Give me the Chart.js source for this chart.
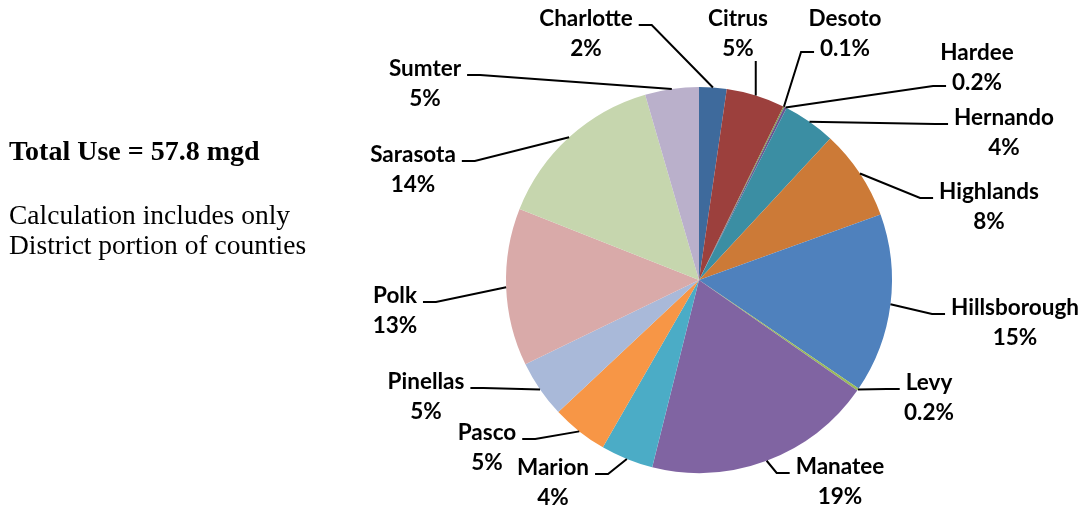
<!DOCTYPE html>
<html>
<head>
<meta charset="utf-8">
<script src="https://cdn.jsdelivr.net/npm/chart.js@4/dist/chart.umd.min.js"></script>
<style>
  body { margin: 0; background: #fff; }
  #wrap { position: relative; width: 1089px; height: 512px; }
  #chart { position: absolute; left: 0; top: 0; }
  .note { position: absolute; left: 9px; font-family: "Liberation Serif", serif; font-size: 27px; color: #000; white-space: nowrap; }
</style>
</head>
<body>
<div id="wrap">
  <canvas id="chart" width="1089" height="512"></canvas>
  <div class="note" style="top:135px; font-weight:bold; font-size:28px;">Total Use = 57.8 mgd</div>
  <div class="note" style="top:199px; font-size:27.5px;">Calculation includes only</div>
  <div class="note" style="top:229px; font-size:27.5px;">District portion of counties</div>
</div>
<script>
// dados (percentual de uso por condado)
const condados = ['Charlotte', 'Citrus', 'Desoto', 'Hardee', 'Hernando', 'Highlands', 'Hillsborough',
  'Levy', 'Manatee', 'Marion', 'Pasco', 'Pinellas', 'Polk', 'Sarasota', 'Sumter'];
const percentuais = [2.3, 4.9, 0.1, 0.2, 4.4, 7.6, 15.0, 0.2, 19.2, 4.4, 4.7, 4.8, 13.2, 14.5, 4.5];
const rotulosPct = ['2%', '5%', '0.1%', '0.2%', '4%', '8%', '15%', '0.2%', '19%', '4%', '5%', '5%', '13%', '14%', '5%'];

const cores = ['#3e6a9c', '#9c403d', '#7e9a48', '#6b5592', '#3b8ea3', '#cc7a37', '#4f81bd',
  '#9bbb59', '#8064a2', '#4bacc6', '#f79646', '#a9b9d9', '#d9aaa9', '#c6d6ae', '#bab0cb'];

// posição do centro do nome de cada rótulo, relativa ao centro da pizza
const posRotulos = [[-113, -261], [39, -261], [146, -261], [278, -227], [305, -162], [290, -88],
  [316, 28], [230, 103], [141, 187], [-146, 188], [-212, 153], [-273, 102], [-304, 16],
  [-286, -125], [-274, -211]];

const rotulosPlugin = {
  id: 'rotulos',
  afterDatasetsDraw(chart) {
    const ctx = chart.ctx;
    const meta = chart.getDatasetMeta(0);
    ctx.save();
    ctx.font = 'bold 22.5px Lato, "Open Sans", sans-serif';
    ctx.fillStyle = '#000';
    ctx.strokeStyle = '#000';
    ctx.lineWidth = 2;
    ctx.textAlign = 'center';
    ctx.textBaseline = 'middle';
    meta.data.forEach((arco, i) => {
      const p = arco.getProps(['x', 'y', 'startAngle', 'endAngle', 'outerRadius'], true);
      const meio = (p.startAngle + p.endAngle) / 2;
      const ex = p.x + Math.cos(meio) * p.outerRadius;
      const ey = p.y + Math.sin(meio) * p.outerRadius;
      const lx = p.x + posRotulos[i][0];
      const ly = p.y + posRotulos[i][1];
      const wNome = ctx.measureText(condados[i]).width;
      const wPct = ctx.measureText(rotulosPct[i]).width;
      const w = Math.max(wNome, wPct);

      // linha de chamada (liga na borda do texto mais próxima)
      ctx.beginPath();
      if (lx - w / 2 - 6 > ex) {
        // rótulo à direita: se a fatia está mais abaixo que o nome, usa a linha do percentual
        const usaPct = ey > ly + 50 && wPct < wNome;
        const ax = lx - (usaPct ? wPct : wNome) / 2 - 6;
        const ay = usaPct ? ly + 33 : ly + 6;
        ctx.moveTo(ax, ay);
        ctx.lineTo(ax - 13, ay);
      } else if (lx + w / 2 + 6 < ex) {
        const ax = lx + wNome / 2 + 6;
        ctx.moveTo(ax, ly + 6);
        ctx.lineTo(ax + 13, ly + 6);
      } else {
        const ax = Math.min(Math.max(ex, lx - w / 2), lx + w / 2);
        ctx.moveTo(ax, ly + 42);
      }
      ctx.lineTo(ex, ey);
      ctx.stroke();

      ctx.fillText(condados[i], lx, ly);
      ctx.fillText(rotulosPct[i], lx, ly + 30);
    });
    ctx.restore();
  }
};

new Chart(document.getElementById('chart'), {
  type: 'pie',
  data: {
    labels: condados,
    datasets: [{
      data: percentuais,
      backgroundColor: cores,
      borderWidth: 0
    }]
  },
  options: {
    responsive: false,
    animation: false,
    layout: { padding: { left: 506, right: 197, top: 87, bottom: 39 } },
    plugins: {
      legend: { display: false },
      tooltip: { enabled: false }
    }
  },
  plugins: [rotulosPlugin]
});
</script>
</body>
</html>
